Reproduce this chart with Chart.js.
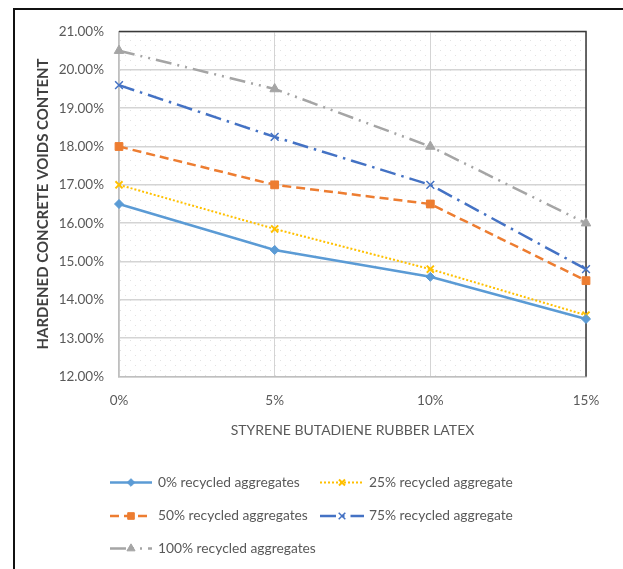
<!DOCTYPE html>
<html>
<head>
<meta charset="utf-8">
<script src="https://cdn.jsdelivr.net/npm/chart.js@4/dist/chart.umd.min.js"></script>
<style>
  html, body { margin: 0; padding: 0; background: #ffffff; }
  #wrap { position: relative; width: 623px; height: 569px; }
</style>
</head>
<body>
<div id="wrap"><canvas id="c" width="623" height="569"></canvas></div>
<script>
// SBR latex dosage on the x axis
const latexLevels = ['0%', '5%', '10%', '15%'];

// Hardened concrete voids content (%) per recycled-aggregate replacement
const rca0   = [16.5, 15.3, 14.6, 13.5];
const rca25  = [17.0, 15.85, 14.8, 13.6];
const rca50  = [18.0, 17.0, 16.5, 14.5];
const rca75  = [19.6, 18.25, 17.0, 14.8];
const rca100 = [20.5, 19.5, 18.0, 16.0];

const seriesNames = [
  '0% recycled aggregates',
  '25% recycled aggregate',
  '50% recycled aggregates',
  '75% recycled aggregate',
  '100% recycled aggregates'
];

const yMin = 12, yMax = 21, yStep = 1;

Chart.defaults.font.family = 'Lato, "Open Sans", sans-serif';
Chart.defaults.color = '#595959';

// light dotted fill behind the plot
function dotPattern(ctx) {
  const p = document.createElement('canvas');
  p.width = 10; p.height = 10;
  const g = p.getContext('2d');
  g.fillStyle = '#e2e2e2';
  g.fillRect(0, 0, 1, 1);
  g.fillRect(5, 5, 1, 1);
  return ctx.createPattern(p, 'repeat');
}

const framePlugin = {
  id: 'frame',
  beforeDatasetsDraw(chart) {
    const { ctx, chartArea: a } = chart;
    ctx.save();
    // outer frame (left and top edges)
    ctx.strokeStyle = '#111111';
    ctx.lineWidth = 2;
    ctx.beginPath();
    ctx.moveTo(14, 569);
    ctx.lineTo(14, 9);
    ctx.lineTo(623, 9);
    ctx.stroke();
    // plot-area top and right borders
    ctx.strokeStyle = '#3a3a3a';
    ctx.lineWidth = 1.5;
    ctx.beginPath();
    ctx.moveTo(a.left, a.top);
    ctx.lineTo(a.right, a.top);
    ctx.lineTo(a.right, a.bottom);
    ctx.stroke();
    ctx.restore();
  },
  beforeDraw(chart) {
    const { ctx, chartArea: a } = chart;
    ctx.save();
    ctx.fillStyle = dotPattern(ctx);
    ctx.fillRect(a.left, a.top, a.right - a.left, a.bottom - a.top);
    ctx.restore();
  }
};

// legend drawn as line sample + marker + label, in a 2-column grid
const legendPlugin = {
  id: 'gridLegend',
  afterDraw(chart) {
    const { ctx } = chart;
    const cols = [{ x0: 110, x1: 152, tx: 158 }, { x0: 320, x1: 364, tx: 369 }];
    const rows = [482.5, 516, 548.5];
    const drawPoint = Chart.helpers && Chart.helpers.drawPoint;
    chart.data.datasets.forEach((ds, i) => {
      const c = cols[i % 2], y = rows[Math.floor(i / 2)];
      ctx.save();
      ctx.strokeStyle = ds.borderColor;
      ctx.lineWidth = ds.borderWidth;
      ctx.setLineDash(ds.borderDash || []);
      ctx.beginPath();
      ctx.moveTo(c.x0, y);
      ctx.lineTo(c.x1, y);
      ctx.stroke();
      ctx.setLineDash([]);
      if (drawPoint) {
        ctx.fillStyle = ds.pointBackgroundColor;
        ctx.strokeStyle = ds.pointBorderColor;
        ctx.lineWidth = ds.pointBorderWidth;
        drawPoint(ctx, {
          pointStyle: ds.pointStyle,
          radius: ds.pointRadius * 0.85,
          borderWidth: ds.pointBorderWidth,
          rotation: 0
        }, (c.x0 + c.x1) / 2, y);
      }
      ctx.fillStyle = '#595959';
      ctx.font = '13.8px Lato, "Open Sans", sans-serif';
      ctx.textBaseline = 'middle';
      ctx.textAlign = 'left';
      ctx.fillText(ds.label, c.tx, y);
      ctx.restore();
    });
  }
};

const styles = [
  { color: '#5B9BD5', dash: [],                  width: 2.5, point: 'rectRot',  r: 4.5, pw: 1 },
  { color: '#FFC000', dash: [2, 2],              width: 2,   point: 'crossRot', r: 5,   pw: 2 },
  { color: '#ED7D31', dash: [9, 5],              width: 2.5, point: 'rect',     r: 5.5, pw: 1 },
  { color: '#4472C4', dash: [16, 6, 2.5, 6],     width: 2.5, point: 'crossRot', r: 5.5, pw: 1.5 },
  { color: '#A5A5A5', dash: [16, 6, 2, 6, 2, 6], width: 2.5, point: 'triangle', r: 5.5, pw: 1 }
];
const values = [rca0, rca25, rca50, rca75, rca100];

new Chart(document.getElementById('c'), {
  type: 'line',
  data: {
    labels: latexLevels,
    datasets: values.map((v, i) => ({
      label: seriesNames[i],
      data: v,
      borderColor: styles[i].color,
      backgroundColor: styles[i].color,
      borderWidth: styles[i].width,
      borderDash: styles[i].dash,
      pointStyle: styles[i].point,
      pointRadius: styles[i].r,
      pointHoverRadius: styles[i].r,
      pointBackgroundColor: styles[i].color,
      pointBorderColor: styles[i].color,
      pointBorderWidth: styles[i].pw,
      tension: 0,
      fill: false
    }))
  },
  options: {
    responsive: false,
    animation: false,
    events: [],
    layout: { padding: { left: 34, top: 31.5, right: 37, bottom: 127.5 } },
    plugins: { legend: { display: false }, tooltip: { enabled: false } },
    scales: {
      x: {
        offset: false,
        grid: { color: '#d4d4d4', lineWidth: 1, drawTicks: false },
        border: { color: '#bfbfbf', width: 1.5 },
        ticks: { padding: 16, font: { size: 13.5 }, color: '#595959' },
        title: {
          display: true,
          text: 'STYRENE BUTADIENE RUBBER LATEX',
          font: { size: 14 },
          color: '#595959',
          padding: { top: 0, bottom: 3 }
        },
        afterFit(s) { s.height = 65; }
      },
      y: {
        min: yMin, max: yMax,
        grid: { color: '#d4d4d4', lineWidth: 1.5, drawTicks: false },
        border: { color: '#bfbfbf', width: 1.5 },
        ticks: {
          stepSize: yStep,
          padding: 15,
          font: { size: 13.5 },
          color: '#595959',
          callback: v => v.toFixed(2) + '%'
        },
        title: {
          display: true,
          text: 'HARDENED CONCRETE VOIDS CONTENT',
          font: { size: 15, weight: 'bold' },
          color: '#404040',
          padding: { top: 0, bottom: 0 }
        },
        afterFit(s) { s.width = 85; }
      }
    }
  },
  plugins: [framePlugin, legendPlugin]
});
</script>
</body>
</html>
